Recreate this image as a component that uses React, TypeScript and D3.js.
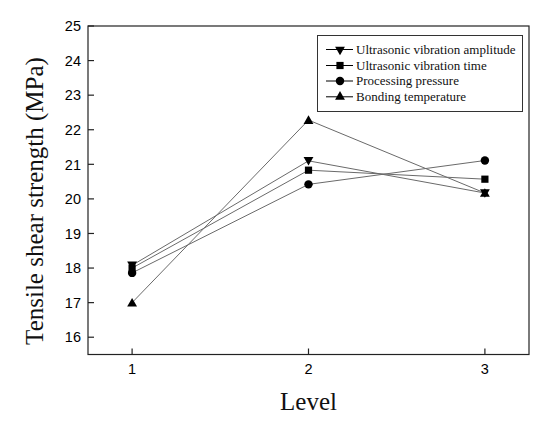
import React, { useEffect } from "react";
import * as d3 from "d3";

const levels = [1, 2, 3];
const amplitude = [18.08, 21.1, 20.17];
const time = [18.0, 20.83, 20.57];
const pressure = [17.86, 20.42, 21.11];
const temperature = [17.0, 22.28, 20.17];
const yTicks = [16, 17, 18, 19, 20, 21, 22, 23, 24, 25];
const seriesNames = [
  "Ultrasonic vibration amplitude",
  "Ultrasonic vibration time",
  "Processing pressure",
  "Bonding temperature",
];

type Marker = "down" | "square" | "circle" | "up";
const seriesList: { name: string; values: number[]; marker: Marker }[] = [
  { name: seriesNames[0], values: amplitude, marker: "down" },
  { name: seriesNames[1], values: time, marker: "square" },
  { name: seriesNames[2], values: pressure, marker: "circle" },
  { name: seriesNames[3], values: temperature, marker: "up" },
];

const W = 550;
const H = 422;
const left = 88;
const right = 529;
const top = 26;
const bottom = 354.5;

const x = d3.scaleLinear().domain([0.75, 3.25]).range([left, right]);
const y = d3.scaleLinear().domain([15.5, 25]).range([bottom, top]);

function symPath(m: Marker): { d: string; rot: number } {
  if (m === "square") return { d: d3.symbol(d3.symbolSquare, 52)() as string, rot: 0 };
  if (m === "circle") return { d: d3.symbol(d3.symbolCircle, 56)() as string, rot: 0 };
  const d = d3.symbol(d3.symbolTriangle, 42)() as string;
  return { d, rot: m === "down" ? 180 : 0 };
}

const line = d3
  .line<number>()
  .x((_, i) => x(levels[i]))
  .y((v) => y(v));

export default function App() {
  useEffect(() => {
    document.body.style.margin = "0";
  }, []);
  const serif = "'Liberation Serif', 'Times New Roman', serif";
  const sans = "'Liberation Sans', Arial, sans-serif";
  const legX = 317.5;
  const legY = 35.5;
  const legRows = [49.5, 65.5, 81, 96.8];
  return (
    <svg width={W} height={H} style={{ display: "block", background: "#fff" }}>
      <rect x={0} y={0} width={W} height={H} fill="#fff" />
      {seriesList.map((s) => (
        <path key={s.name + "l"} d={line(s.values) as string} fill="none" stroke="#6a6a6a" strokeWidth={1} />
      ))}
      {seriesList.map((s) => {
        const sp = symPath(s.marker);
        return s.values.map((v, i) => (
          <path
            key={s.name + i}
            d={sp.d}
            transform={`translate(${x(levels[i])},${y(v) + (s.marker === "up" ? 1 : s.marker === "down" ? -1 : 0)}) rotate(${sp.rot})`}
            fill="#000"
          />
        ));
      })}
      <rect x={left} y={top} width={right - left} height={bottom - top} fill="none" stroke="#222" strokeWidth={1.2} />
      {yTicks.map((t) => (
        <g key={"y" + t}>
          <line x1={left} x2={left + 6} y1={y(t)} y2={y(t)} stroke="#222" strokeWidth={1.2} />
          <text x={81} y={y(t)} dy="0.36em" textAnchor="end" fontFamily={sans} fontSize={14.5} fill="#000">
            {t}
          </text>
        </g>
      ))}
      {levels.map((t) => (
        <g key={"x" + t}>
          <line x1={x(t)} x2={x(t)} y1={bottom} y2={bottom - 6} stroke="#222" strokeWidth={1.2} />
          <text x={x(t)} y={373.5} textAnchor="middle" fontFamily={sans} fontSize={14.5} fill="#000">
            {t}
          </text>
        </g>
      ))}
      <text x={308.5} y={410} textAnchor="middle" fontFamily={serif} fontSize={25} fill="#111">
        Level
      </text>
      <text
        transform={`translate(43,201) rotate(-90)`}
        textAnchor="middle"
        fontFamily={serif}
        fontSize={25}
        fill="#111"
      >
        Tensile shear strength (MPa)
      </text>
      <rect x={legX} y={legY} width={205} height={76} fill="#fff" stroke="#333" strokeWidth={1} />
      {seriesList.map((s, i) => {
        const sp = symPath(s.marker);
        const ry = legRows[i];
        return (
          <g key={"leg" + i}>
            <line x1={326} x2={353} y1={ry} y2={ry} stroke="#000" strokeWidth={1} />
            <path d={sp.d} transform={`translate(340,${ry}) rotate(${sp.rot})`} fill="#000" />
            <text x={356} y={ry} dy="0.32em" fontFamily={serif} fontSize={13} fill="#111">
              {s.name}
            </text>
          </g>
        );
      })}
    </svg>
  );
}
